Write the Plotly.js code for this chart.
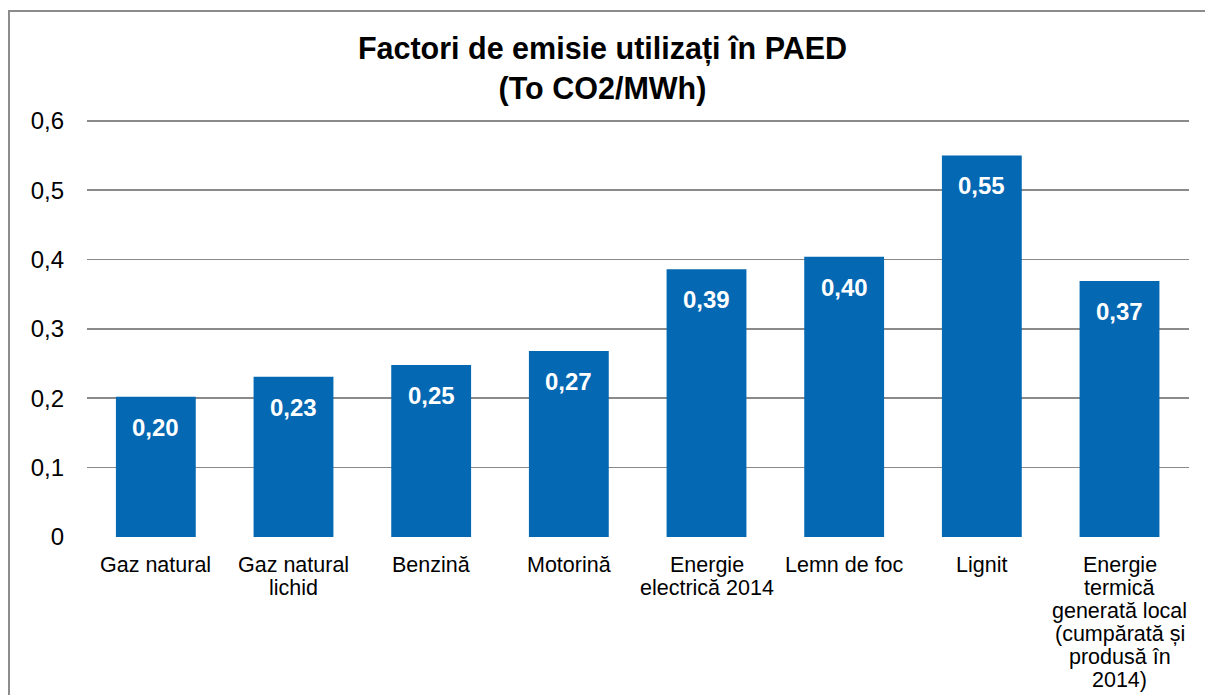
<!DOCTYPE html>
<html>
<head>
<meta charset="utf-8">
<script src="https://cdn.plot.ly/plotly-3.0.1.min.js"></script>
<style>
  html, body { margin: 0; padding: 0; background: #fff; }
  #wrap { position: relative; width: 1205px; height: 695px; overflow: hidden; }
  #chart { position: absolute; left: 0; top: 0; width: 1205px; height: 695px; }
  #frame { position: absolute; left: 8px; top: 10px; width: 1300px; height: 800px;
           border-left: 2px solid #8c8c8c; border-top: 2px solid #8c8c8c; pointer-events: none; }
</style>
</head>
<body>
<div id="wrap">
  <div id="chart"></div>
  <div id="frame"></div>
</div>
<script>
// Data
const categories = [
  "Gaz natural",
  "Gaz natural<br>lichid",
  "Benzină",
  "Motorină",
  "Energie<br>electrică 2014",
  "Lemn de foc",
  "Lignit",
  "Energie<br>termică<br>generată local<br>(cumpărată și<br>produsă în<br>2014)"
];
const values = [0.202, 0.231, 0.248, 0.268, 0.386, 0.404, 0.550, 0.369];
const valueLabels = ["0,20", "0,23", "0,25", "0,27", "0,39", "0,40", "0,55", "0,37"];
const yTickVals = [0, 0.1, 0.2, 0.3, 0.4, 0.5, 0.6];
const yTickText = ["0", "0,1", "0,2", "0,3", "0,4", "0,5", "0,6"];
const titleText = "Factori de emisie utilizați în PAED<br>(To CO2/MWh)";

const FONT = "Liberation Sans, Arial, Helvetica, sans-serif";
const keys = categories.map((c, i) => "c" + i);

const trace = {
  type: "bar",
  x: keys,
  y: values,
  marker: { color: "#0468b3", line: { width: 0 } },
  hoverinfo: "skip"
};

const annotations = [];
// value labels inside bars near top
values.forEach((v, i) => {
  annotations.push({
    x: keys[i], y: v, xref: "x", yref: "y",
    text: "<b>" + valueLabels[i] + "</b>",
    showarrow: false, yanchor: "top", xanchor: "center", yshift: -15,
    font: { family: FONT, size: 24, color: "#ffffff" }
  });
});
// category labels, one line per annotation for tight line spacing
categories.forEach((c, i) => {
  c.split("<br>").forEach((line, j) => {
    annotations.push({
      x: keys[i], y: 0, xref: "x", yref: "y",
      text: line, showarrow: false, yanchor: "top", xanchor: "center",
      yshift: -14 - j * 23,
      font: { family: FONT, size: 21.5, color: "#000000" }
    });
  });
});

const layout = {
  width: 1205, height: 695,
  paper_bgcolor: "rgba(0,0,0,0)", plot_bgcolor: "rgba(0,0,0,0)",
  margin: { l: 87, r: 16, t: 118, b: 158, pad: 0 },
  separators: ",.",
  showlegend: false,
  bargap: 0.42,
  title: {
    text: "<b>" + titleText + "</b>",
    x: 0.5, xref: "container", xanchor: "center",
    y: 1 - 59 / 695, yref: "container", yanchor: "top",
    font: { family: FONT, size: 30.5, color: "#000000" }
  },
  xaxis: {
    type: "category",
    showticklabels: false, showgrid: false, zeroline: false, showline: false, ticks: ""
  },
  yaxis: {
    range: [0, 0.604],
    tickvals: yTickVals, ticktext: yTickText,
    showgrid: true, gridcolor: "#8a8a8a", gridwidth: 1.6,
    zeroline: false, showline: false, ticks: "",
    ticklabelstandoff: 22,
    tickfont: { family: FONT, size: 24, color: "#000000" }
  },
  annotations: annotations
};

Plotly.newPlot("chart", [trace], layout, { displayModeBar: false, staticPlot: true });
</script>
</body>
</html>
